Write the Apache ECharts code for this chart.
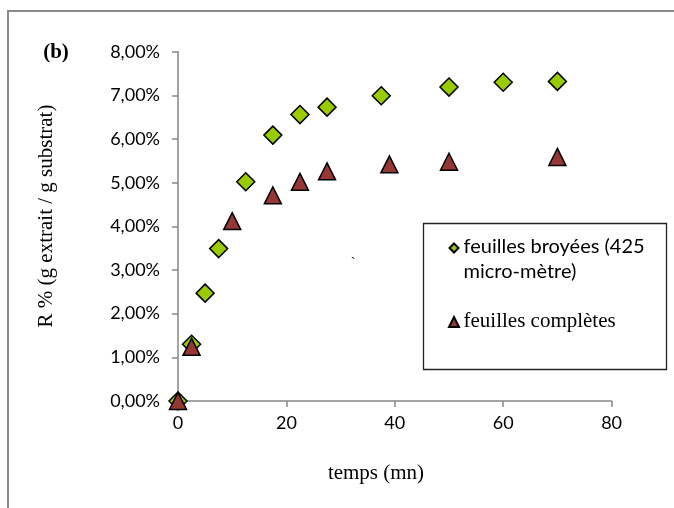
<!DOCTYPE html>
<html><head><meta charset="utf-8">
<script src="https://cdn.jsdelivr.net/npm/echarts@6/dist/echarts.min.js"></script>
<style>html,body{margin:0;padding:0;background:#fff}#c{width:674px;height:508px}</style>
</head><body><div id="c"></div>
<script>
const seriesNames = ['feuilles broyées (425 micro-mètre)', 'feuilles complètes'];
const broyeesTime = [0, 2.5, 5, 7.5, 12.5, 17.5, 22.5, 27.5, 37.5, 50, 60, 70];
const broyeesR    = [0, 1.30, 2.47, 3.49, 5.02, 6.09, 6.56, 6.73, 6.99, 7.19, 7.30, 7.32];
const completesTime = [0, 2.5, 10, 17.5, 22.5, 27.5, 39, 50, 70];
const completesR    = [0, 1.24, 4.12, 4.71, 5.02, 5.26, 5.42, 5.48, 5.59];
const xTickValues = [0, 20, 40, 60, 80];
const yTickValues = [0, 1, 2, 3, 4, 5, 6, 7, 8];
const xTitle = 'temps (mn)';
const yTitle = 'R % (g extrait / g substrat)';
const panelLabel = '(b)';
const legendLines = ['feuilles broyées (425', 'micro-mètre)', 'feuilles complètes'];

const sans = 'Lato';
const serif = '"Liberation Serif"';
const axisCol = '#868686';

function txt(x, y, text, font, align, rot) {
  return {type: 'text', x: x, y: y, rotation: rot || 0, silent: true,
    style: {text: text, font: font, fill: '#000', align: align, verticalAlign: 'middle',
            textAlign: align, textVerticalAlign: 'middle'}};
}

const chart = echarts.init(document.getElementById('c'), null, {renderer: 'canvas'});
chart.setOption({
  animation: false,
  backgroundColor: '#fff',
  grid: {left: 178, right: 62.4, top: 51.7, bottom: 107, containLabel: false},
  xAxis: {
    type: 'value', min: xTickValues[0], max: xTickValues[xTickValues.length - 1], interval: 20,
    axisLine: {show: true, onZero: false, lineStyle: {color: axisCol, width: 1.5}},
    axisTick: {show: true, length: 6, lineStyle: {color: axisCol, width: 1.5}},
    splitLine: {show: false},
    axisLabel: {margin: 13, color: '#000', fontFamily: sans, fontSize: 18}
  },
  yAxis: {
    type: 'value', min: yTickValues[0], max: yTickValues[yTickValues.length - 1], interval: 1,
    axisLine: {show: true, onZero: false, lineStyle: {color: axisCol, width: 1.5}},
    axisTick: {show: true, length: 6, lineStyle: {color: axisCol, width: 1.5}},
    splitLine: {show: false},
    axisLabel: {margin: 18, color: '#000', fontFamily: sans, fontSize: 18,
      formatter: v => v.toFixed(2).replace('.', ',') + '%'}
  },
  legend: [
    {data: [seriesNames[0]], left: 448.5, top: 242.5, orient: 'vertical', padding: 0,
     itemWidth: 9, itemHeight: 9, selectedMode: false, formatter: () => '',
     textStyle: {fontSize: 1}},
    {data: [seriesNames[1]], left: 448, top: 316, orient: 'vertical', padding: 0,
     itemWidth: 10, itemHeight: 10, selectedMode: false, formatter: () => '',
     textStyle: {fontSize: 1}}
  ],
  series: [
    {name: seriesNames[0], type: 'scatter', symbol: 'diamond', symbolSize: 18,
     itemStyle: {color: '#99CC00', borderColor: '#000', borderWidth: 1.5, opacity: 1},
     data: broyeesTime.map((t, i) => [t, broyeesR[i]]), z: 3},
    {name: seriesNames[1], type: 'scatter', symbol: 'triangle', symbolSize: 17,
     itemStyle: {color: '#953735', borderColor: '#000', borderWidth: 1.5, opacity: 1},
     data: completesTime.map((t, i) => [t, completesR[i]]), z: 4}
  ],
  graphic: [
    {type: 'rect', z: -10, silent: true, shape: {x: 8, y: 11, width: 700, height: 600},
     style: {fill: 'none', stroke: '#8a8a8a', lineWidth: 2}},
    {type: 'rect', z: -5, silent: true, shape: {x: 423.5, y: 223.5, width: 243, height: 146},
     style: {fill: '#fff', stroke: '#222', lineWidth: 1.3}},
    txt(463.5, 247, legendLines[0], '20px ' + sans, 'left'),
    txt(463.5, 272, legendLines[1], '20px ' + sans, 'left'),
    txt(463.5, 321, legendLines[2], '21px ' + serif, 'left'),
    txt(56, 53, panelLabel, 'bold 21px ' + serif, 'center'),
    txt(46, 216, yTitle, '21px ' + serif, 'center', Math.PI / 2),
    txt(376, 473, xTitle, '21px ' + serif, 'center'),
    txt(353, 263, '`', '14px ' + serif, 'center')
  ]
});
</script>
</body></html>
